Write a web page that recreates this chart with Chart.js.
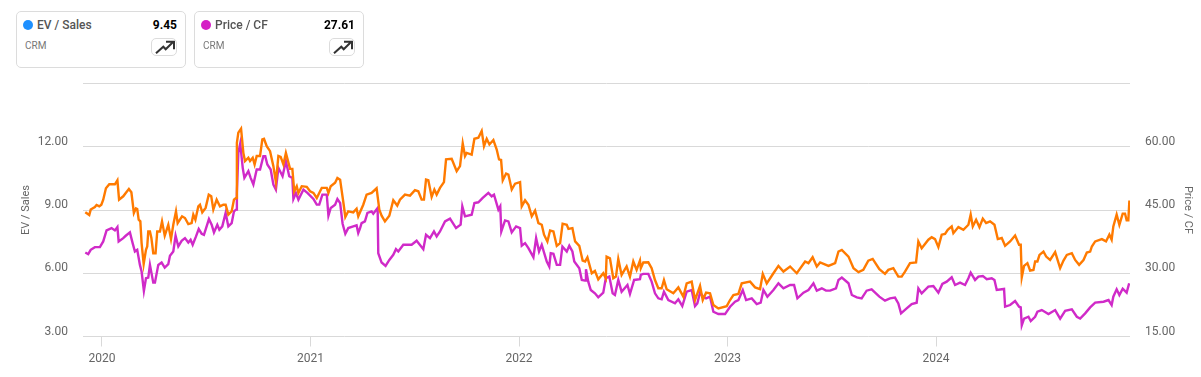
<!DOCTYPE html>
<html>
<head>
<meta charset="utf-8">
<title>CRM EV / Sales and Price / CF</title>
<script src="https://cdn.jsdelivr.net/npm/chart.js@4"></script>
<style>
    html, body { margin: 0; padding: 0; background: #fff; overflow: hidden; }
    body { width: 1201px; height: 377px; position: relative; font-family: Roboto, sans-serif; }
    #chart { position: absolute; left: 0; top: 0; }
    .card { position: absolute; top: 11px; width: 168px; height: 55px; border: 1px solid #dcdcdc; border-radius: 5px; background: #fff; }
    .dot { position: absolute; left: 6px; top: 8px; width: 10px; height: 10px; border-radius: 50%; }
    .name { position: absolute; left: 20px; top: 5px; font-size: 12px; font-weight: 500; color: #555; line-height: 16px; }
    .value { position: absolute; right: 8px; top: 5px; font-size: 12px; font-weight: 700; color: #000; line-height: 16px; }
    .ticker { position: absolute; left: 8px; top: 27px; font-size: 10px; color: #777; line-height: 14px; }
    .icon { position: absolute; right: 8px; top: 26px; width: 24px; height: 16px; border: 1px solid #dcdcdc; border-radius: 5px; }
    .icon svg { position: absolute; left: 3px; top: 1px; }
</style>
</head>
<body>
<canvas id="chart" width="1201" height="377"></canvas>
<div class="card" style="left:16px">
    <div class="dot" style="background:#1e90ff"></div>
    <div class="name">EV / Sales</div>
    <div class="value">9.45</div>
    <div class="ticker">CRM</div>
    <div class="icon"><svg width="21" height="16" viewBox="0 0 21 16"><path d="M1 13.3 L8.3 6.7 L10.7 9.3 L18.3 1.7 M11 1.7 L19 1.7 L19 9.3" fill="none" stroke="#333" stroke-width="2"/></svg></div>
</div>
<div class="card" style="left:194px">
    <div class="dot" style="background:#d51fc5"></div>
    <div class="name">Price / CF</div>
    <div class="value">27.61</div>
    <div class="ticker">CRM</div>
    <div class="icon"><svg width="21" height="16" viewBox="0 0 21 16"><path d="M1 13.3 L8.3 6.7 L10.7 9.3 L18.3 1.7 M11 1.7 L19 1.7 L19 9.3" fill="none" stroke="#333" stroke-width="2"/></svg></div>
</div>
<script>
// dates are decimal years
const evDates = [
    2019.920, 2019.939, 2019.946, 2019.966, 2019.974, 2019.987, 2019.997, 2020.006, 2020.019, 2020.035, 2020.062, 2020.074, 2020.082, 2020.102, 2020.114, 2020.129,
    2020.141, 2020.153, 2020.163, 2020.169, 2020.176, 2020.184, 2020.190, 2020.200, 2020.211, 2020.217, 2020.222, 2020.230, 2020.237, 2020.246, 2020.257, 2020.265,
    2020.278, 2020.288, 2020.301, 2020.318, 2020.331, 2020.342, 2020.355, 2020.363, 2020.384, 2020.398, 2020.414, 2020.430, 2020.438, 2020.448, 2020.462, 2020.470,
    2020.481, 2020.497, 2020.512, 2020.524, 2020.534, 2020.550, 2020.566, 2020.582, 2020.593, 2020.606, 2020.622, 2020.633, 2020.643, 2020.647, 2020.654, 2020.667,
    2020.678, 2020.686, 2020.702, 2020.710, 2020.723, 2020.732, 2020.742, 2020.758, 2020.769, 2020.777, 2020.790, 2020.806, 2020.822, 2020.834, 2020.846, 2020.857,
    2020.870, 2020.882, 2020.902, 2020.913, 2020.922, 2020.934, 2020.942, 2020.958, 2020.982, 2020.998, 2021.014, 2021.030, 2021.046, 2021.054, 2021.078, 2021.086,
    2021.097, 2021.118, 2021.129, 2021.142, 2021.158, 2021.167, 2021.181, 2021.205, 2021.221, 2021.229,
    2021.253, 2021.269, 2021.293, 2021.317, 2021.330, 2021.341, 2021.357, 2021.378, 2021.397, 2021.416, 2021.429, 2021.453, 2021.477, 2021.501, 2021.517, 2021.533,
    2021.544, 2021.554, 2021.565, 2021.581, 2021.594, 2021.605, 2021.621, 2021.640, 2021.650, 2021.677, 2021.701, 2021.717, 2021.730, 2021.741, 2021.749, 2021.773,
    2021.786, 2021.805, 2021.821, 2021.832, 2021.845, 2021.858, 2021.877, 2021.893, 2021.904, 2021.914, 2021.922, 2021.938, 2021.949, 2021.965, 2021.981, 2022.005,
    2022.013, 2022.029, 2022.045, 2022.061, 2022.077, 2022.093, 2022.109, 2022.120, 2022.136, 2022.149, 2022.165, 2022.181, 2022.197, 2022.209, 2022.229, 2022.237,
    2022.256, 2022.269, 2022.289, 2022.305, 2022.317, 2022.328, 2022.349, 2022.364, 2022.380, 2022.404, 2022.416, 2022.420, 2022.436, 2022.452, 2022.465, 2022.476,
    2022.492, 2022.516, 2022.532, 2022.548, 2022.564, 2022.580,
    2022.584, 2022.596, 2022.620, 2022.636, 2022.652, 2022.668, 2022.684, 2022.695, 2022.708, 2022.740, 2022.764, 2022.788, 2022.804, 2022.828, 2022.844, 2022.868,
    2022.881, 2022.897, 2022.916, 2022.932, 2022.956, 2022.996, 2023.012, 2023.028, 2023.052, 2023.068, 2023.108, 2023.132, 2023.156, 2023.169, 2023.188, 2023.220,
    2023.244, 2023.268, 2023.300, 2023.332, 2023.372, 2023.388, 2023.408, 2023.428, 2023.444, 2023.484, 2023.516, 2023.532, 2023.548, 2023.580, 2023.604, 2023.628,
    2023.651, 2023.675, 2023.696, 2023.728, 2023.755, 2023.771, 2023.795, 2023.819,
    2023.835, 2023.851, 2023.875, 2023.904, 2023.915, 2023.931, 2023.963, 2023.979, 2023.995, 2024.011, 2024.027, 2024.043, 2024.056, 2024.075, 2024.083, 2024.107,
    2024.131, 2024.155, 2024.166, 2024.176, 2024.192, 2024.208, 2024.224, 2024.240, 2024.259, 2024.280, 2024.296, 2024.315, 2024.331, 2024.355, 2024.379, 2024.398,
    2024.406, 2024.411, 2024.422, 2024.438, 2024.451, 2024.467, 2024.475, 2024.486, 2024.496, 2024.515, 2024.528, 2024.547, 2024.571, 2024.595, 2024.611, 2024.627,
    2024.651, 2024.667, 2024.686, 2024.707, 2024.723, 2024.739, 2024.747, 2024.763, 2024.795, 2024.815, 2024.831, 2024.842, 2024.850, 2024.866, 2024.879, 2024.895,
    2024.906, 2024.914, 2024.922, 2024.927
];
const evValues = [
    8.89, 8.76, 9.02, 9.14, 9.24, 9.17, 9.25, 9.49, 10.03, 10.22, 10.22, 10.41, 9.49, 9.65, 9.81, 10.00,
    9.84, 8.86, 9.08, 9.05, 8.54, 8.46, 7.43, 6.44, 7.11, 7.27, 7.98, 7.98, 7.67, 6.95, 6.95, 7.98,
    7.98, 8.46, 7.78, 8.30, 7.62, 8.30, 8.94, 8.38, 8.70, 8.62, 8.33, 8.38, 8.78, 8.54, 9.17, 9.25,
    8.89, 9.10, 9.73, 9.65, 9.02, 9.49, 9.17, 9.25, 9.25, 8.78, 8.94, 9.49, 9.57, 12.19, 12.67, 12.86,
    11.71, 11.32, 11.48, 11.32, 11.48, 11.16, 11.56, 11.56, 12.35, 12.38, 12.03, 11.79, 11.08, 10.32, 11.56, 11.52,
    11.16, 11.71, 10.95, 10.95, 9.89, 10.13, 9.81, 10.13, 10.10, 9.89, 9.81, 9.57, 9.89, 10.05, 10.05, 9.81,
    10.13, 10.29, 10.52, 10.44, 9.33, 8.67, 8.94, 8.89, 9.06, 8.70,
    9.25, 9.73, 9.81, 10.03, 9.02, 8.73, 8.46, 8.73, 9.46, 9.21, 9.49, 9.73, 9.68, 9.94, 9.89, 9.49,
    9.49, 10.44, 10.41, 9.62, 9.97, 9.73, 10.05, 10.32, 11.40, 11.43, 10.84, 11.08, 12.16, 11.56, 11.71, 11.63,
    12.38, 12.43, 12.75, 12.03, 12.38, 12.11, 12.32, 11.87, 11.40, 11.37, 10.41, 10.73, 10.68, 9.97, 10.25, 10.32,
    9.17, 9.46, 9.25, 8.70, 8.97, 8.38, 8.30, 7.83, 7.51, 8.03, 7.98, 7.30, 7.43, 8.35, 8.30, 8.10,
    8.14, 7.51, 7.30, 6.60, 6.56, 6.75, 6.00, 6.11, 5.71, 6.00, 5.76, 6.79, 6.71, 5.76, 5.84, 6.68,
    5.92, 6.32, 5.84, 6.56, 6.16, 6.60,
    6.24, 6.51, 6.52, 6.24, 5.68, 5.29, 5.29, 5.68, 5.24, 5.05, 5.33, 4.89, 5.52, 5.60, 4.73, 5.40,
    4.73, 5.08, 5.05, 4.49, 4.33, 4.44, 4.73, 4.97, 5.02, 5.52, 5.60, 5.33, 5.25, 5.97, 5.52, 6.00,
    6.35, 6.08, 6.32, 6.00, 6.56, 6.48, 6.76, 6.32, 6.51, 6.35, 6.48, 7.03, 7.11, 6.79, 6.24, 6.05,
    6.16, 6.60, 6.68, 6.19, 5.97, 6.16, 6.24, 5.84,
    5.84, 6.08, 6.48, 6.51, 7.51, 7.19, 7.59, 7.71, 7.62, 7.24, 7.83, 7.87, 8.06, 8.22, 7.90, 8.19,
    8.06, 8.30, 8.78, 8.22, 8.54, 8.19, 8.59, 8.38, 8.46, 8.30, 7.62, 7.67, 7.30, 7.51, 7.79, 7.35,
    7.35, 5.81, 6.35, 6.48, 6.13, 6.16, 6.56, 6.56, 6.87, 7.03, 6.79, 6.63, 7.00, 6.24, 6.60, 6.87,
    6.95, 6.63, 6.40, 6.63, 6.98, 7.03, 7.27, 7.51, 7.62, 7.51, 7.83, 7.59, 8.22, 8.78, 8.30, 8.83,
    8.83, 8.51, 8.51, 9.45
];
const cfDates = [
    2019.920, 2019.934, 2019.946, 2019.966, 2019.990, 2020.006, 2020.022, 2020.046, 2020.062, 2020.074, 2020.080, 2020.102, 2020.114, 2020.134, 2020.147, 2020.158,
    2020.169, 2020.182, 2020.190, 2020.201, 2020.211, 2020.222, 2020.230, 2020.246, 2020.254, 2020.270, 2020.286, 2020.301, 2020.318, 2020.326, 2020.342, 2020.353,
    2020.366, 2020.382, 2020.398, 2020.414, 2020.425, 2020.435, 2020.451, 2020.464, 2020.478, 2020.489, 2020.513, 2020.526, 2020.537, 2020.553, 2020.563, 2020.577,
    2020.593, 2020.606, 2020.622, 2020.633, 2020.643, 2020.647, 2020.654, 2020.663, 2020.675, 2020.683, 2020.702, 2020.713, 2020.726, 2020.742, 2020.758, 2020.774,
    2020.783, 2020.793, 2020.809, 2020.822, 2020.834, 2020.846, 2020.866, 2020.882, 2020.898, 2020.913, 2020.918, 2020.930, 2020.942, 2020.958, 2020.966, 2020.985,
    2021.014, 2021.030, 2021.042, 2021.057, 2021.078, 2021.086, 2021.097, 2021.118, 2021.129, 2021.142, 2021.154, 2021.167, 2021.181, 2021.205, 2021.221, 2021.229, 2021.237,
    2021.245, 2021.261, 2021.273, 2021.293, 2021.301, 2021.322, 2021.325, 2021.341, 2021.360, 2021.378, 2021.397, 2021.410, 2021.421, 2021.445, 2021.485, 2021.509,
    2021.541, 2021.554, 2021.573, 2021.592, 2021.605, 2021.621, 2021.645, 2021.669, 2021.698, 2021.720, 2021.728, 2021.741, 2021.773, 2021.786, 2021.805, 2021.826,
    2021.853, 2021.869, 2021.880, 2021.901, 2021.910, 2021.915, 2021.933, 2021.949, 2021.965, 2021.986, 2022.005, 2022.013, 2022.029, 2022.045, 2022.069, 2022.082,
    2022.096, 2022.109, 2022.133, 2022.145, 2022.152, 2022.165, 2022.181, 2022.197, 2022.208, 2022.229, 2022.241, 2022.256, 2022.265, 2022.289, 2022.301, 2022.317,
    2022.321, 2022.332, 2022.344, 2022.364, 2022.380, 2022.404, 2022.416, 2022.433, 2022.449, 2022.460, 2022.476, 2022.492, 2022.520, 2022.532, 2022.552, 2022.580,
    2022.584, 2022.596, 2022.620, 2022.636, 2022.652, 2022.668, 2022.684, 2022.695, 2022.716, 2022.748, 2022.764, 2022.783, 2022.804, 2022.828, 2022.844, 2022.855,
    2022.868, 2022.884, 2022.897, 2022.916, 2022.932, 2022.956, 2022.988, 2023.012, 2023.036, 2023.052, 2023.073, 2023.089, 2023.116, 2023.140, 2023.159, 2023.172,
    2023.191, 2023.220, 2023.244, 2023.268, 2023.300, 2023.319, 2023.335, 2023.364, 2023.388, 2023.412, 2023.428, 2023.452, 2023.472, 2023.492, 2023.520, 2023.532,
    2023.548, 2023.580, 2023.596, 2023.620, 2023.643, 2023.667, 2023.691, 2023.728, 2023.755, 2023.779, 2023.803, 2023.819, 2023.832,
    2023.859, 2023.883, 2023.907, 2023.915, 2023.931, 2023.963, 2023.987, 2024.011, 2024.030, 2024.051, 2024.075, 2024.091, 2024.115, 2024.139, 2024.155, 2024.166,
    2024.187, 2024.203, 2024.224, 2024.243, 2024.267, 2024.280, 2024.291, 2024.326, 2024.331, 2024.355, 2024.379, 2024.398, 2024.406, 2024.411, 2024.422, 2024.443,
    2024.454, 2024.475, 2024.486, 2024.507, 2024.539, 2024.571, 2024.595, 2024.619, 2024.651, 2024.675, 2024.691, 2024.715, 2024.739, 2024.763, 2024.803, 2024.827,
    2024.842, 2024.850, 2024.866, 2024.879, 2024.895, 2024.914, 2024.926
];
const cfValues = [
    34.92, 34.52, 35.55, 36.19, 36.19, 37.54, 40.16, 40.71, 40.16, 40.95, 37.54, 38.33, 38.89, 39.68, 37.14, 35.16,
    35.55, 31.98, 30.40, 25.79, 28.81, 28.97, 31.98, 27.78, 27.78, 31.98, 32.54, 31.35, 32.14, 34.13, 35.16, 38.89,
    36.35, 37.70, 38.33, 37.30, 37.94, 36.75, 38.73, 40.48, 39.37, 39.13, 42.86, 41.51, 39.68, 41.51, 40.32, 41.11,
    44.29, 41.11, 41.90, 44.68, 45.08, 49.05, 58.57, 60.79, 55.00, 52.62, 54.21, 52.62, 51.03, 54.60, 54.60, 57.78,
    57.78, 55.79, 54.60, 51.03, 49.84, 55.00, 53.02, 56.59, 53.02, 52.62, 47.62, 49.05, 47.46, 49.05, 49.84, 49.05,
    47.62, 46.27, 46.27, 48.65, 48.65, 43.65, 45.48, 46.27, 47.62, 46.67, 41.75, 39.37, 40.71, 41.11, 41.35, 39.52, 40.56,
    41.90, 42.30, 44.29, 44.68, 44.13, 45.48, 34.76, 32.54, 31.75, 33.17, 34.36, 35.71, 35.16, 36.75, 36.75, 37.70,
    35.71, 39.13, 38.33, 39.92, 38.73, 39.92, 42.30, 42.94, 40.71, 41.51, 45.87, 43.49, 43.89, 46.67, 46.83, 47.86,
    49.05, 48.25, 48.65, 45.08, 45.87, 39.92, 42.54, 42.30, 39.68, 41.11, 40.71, 36.51, 37.14, 35.95, 33.81, 38.33,
    35.16, 36.75, 32.78, 31.59, 34.76, 34.60, 31.98, 31.98, 36.35, 35.16, 36.51, 35.16, 32.78, 31.19, 28.41, 28.25,
    30.95, 28.02, 26.03, 25.24, 24.28, 25.40, 28.81, 29.21, 25.24, 24.84, 28.41, 25.63, 27.22, 25.08, 28.41, 28.57,
    29.60, 29.84, 29.84, 28.02, 25.24, 24.05, 23.81, 25.63, 23.65, 22.86, 23.81, 22.22, 25.63, 26.03, 22.22, 22.86,
    25.40, 24.44, 24.05, 24.44, 20.87, 20.32, 20.32, 22.06, 23.25, 23.65, 26.03, 23.65, 24.05, 22.70, 23.02, 26.03,
    24.44, 26.03, 27.62, 26.43, 27.22, 27.22, 24.05, 25.40, 26.03, 27.62, 25.87, 26.43, 25.87, 25.87, 26.43, 28.41,
    28.97, 27.62, 24.84, 24.29, 24.05, 25.87, 26.19, 24.44, 23.49, 24.05, 24.21, 22.86, 20.48,
    21.67, 22.70, 23.02, 26.43, 25.24, 26.82, 26.98, 25.40, 27.46, 28.01, 29.05, 27.22, 27.78, 27.22, 28.81, 30.16,
    28.41, 29.21, 29.36, 28.57, 28.81, 28.41, 26.03, 26.27, 22.06, 22.46, 23.41, 22.06, 21.90, 17.67, 19.25, 19.68,
    18.65, 19.68, 20.87, 21.27, 20.32, 21.27, 19.25, 21.11, 21.43, 19.68, 19.25, 20.48, 21.90, 23.02, 23.25, 23.65,
    22.46, 24.44, 26.19, 24.84, 26.35, 25.40, 27.61
];
const yearTicks = [2020, 2021, 2022, 2023, 2024];
const evTicks = [3, 6, 9, 12, 15];
const cfTicks = [15, 30, 45, 60, 75];

const toPoints = (xs, ys) => xs.map((x, i) => ({ x, y: ys[i] }));
const tickFont = { family: 'Roboto', size: 12 };
const tickColor = '#666';

new Chart(document.getElementById('chart'), {
    type: 'line',
    data: {
        datasets: [
            { label: 'EV / Sales', data: toPoints(evDates, evValues), yAxisID: 'y', borderColor: '#ff7a00', borderWidth: 2.4, pointRadius: 0, tension: 0, order: 0 },
            { label: 'Price / CF', data: toPoints(cfDates, cfValues), yAxisID: 'y2', borderColor: '#d02ac8', borderWidth: 2.4, pointRadius: 0, tension: 0, order: 1 },
        ],
    },
    options: {
        responsive: false,
        animation: false,
        layout: { padding: { top: 83.5, bottom: 0, left: 0, right: 0 } },
        plugins: { legend: { display: false }, tooltip: { enabled: false } },
        scales: {
            x: {
                type: 'linear',
                min: 2019.909,
                max: 2024.93,
                afterBuildTicks: (axis) => { axis.ticks = yearTicks.map(value => ({ value })); },
                afterFit: (axis) => { axis.height = 40.5; },
                grid: { drawOnChartArea: false, drawTicks: true, tickLength: 10, color: '#d9d9d9' },
                border: { display: false },
                ticks: { font: tickFont, color: tickColor, padding: 5, maxRotation: 0, autoSkip: false, callback: (v) => String(v) },
            },
            y: {
                position: 'left',
                min: 3,
                max: 15,
                afterBuildTicks: (axis) => { axis.ticks = evTicks.map(value => ({ value })); },
                afterFit: (axis) => { axis.width = 83; },
                grid: { color: '#d9d9d9', drawTicks: false },
                border: { display: false },
                title: { display: true, text: 'EV / Sales', font: { family: 'Roboto', size: 11 }, color: tickColor, padding: { top: 20, bottom: 0 } },
                ticks: { font: tickFont, color: tickColor, padding: 15, labelOffset: -5, callback: (v) => v === 15 ? '' : v.toFixed(2) },
            },
            y2: {
                position: 'right',
                min: 15,
                max: 75,
                afterBuildTicks: (axis) => { axis.ticks = cfTicks.map(value => ({ value })); },
                afterFit: (axis) => { axis.width = 71; },
                grid: { drawOnChartArea: false, drawTicks: false },
                border: { display: false },
                title: { display: true, text: 'Price / CF', font: { family: 'Roboto', size: 11 }, color: tickColor, padding: { top: 7, bottom: 0 } },
                ticks: { font: tickFont, color: tickColor, padding: 15, labelOffset: -5, callback: (v) => v === 75 ? '' : v.toFixed(2) },
            },
        },
    },
});
</script>
</body>
</html>
